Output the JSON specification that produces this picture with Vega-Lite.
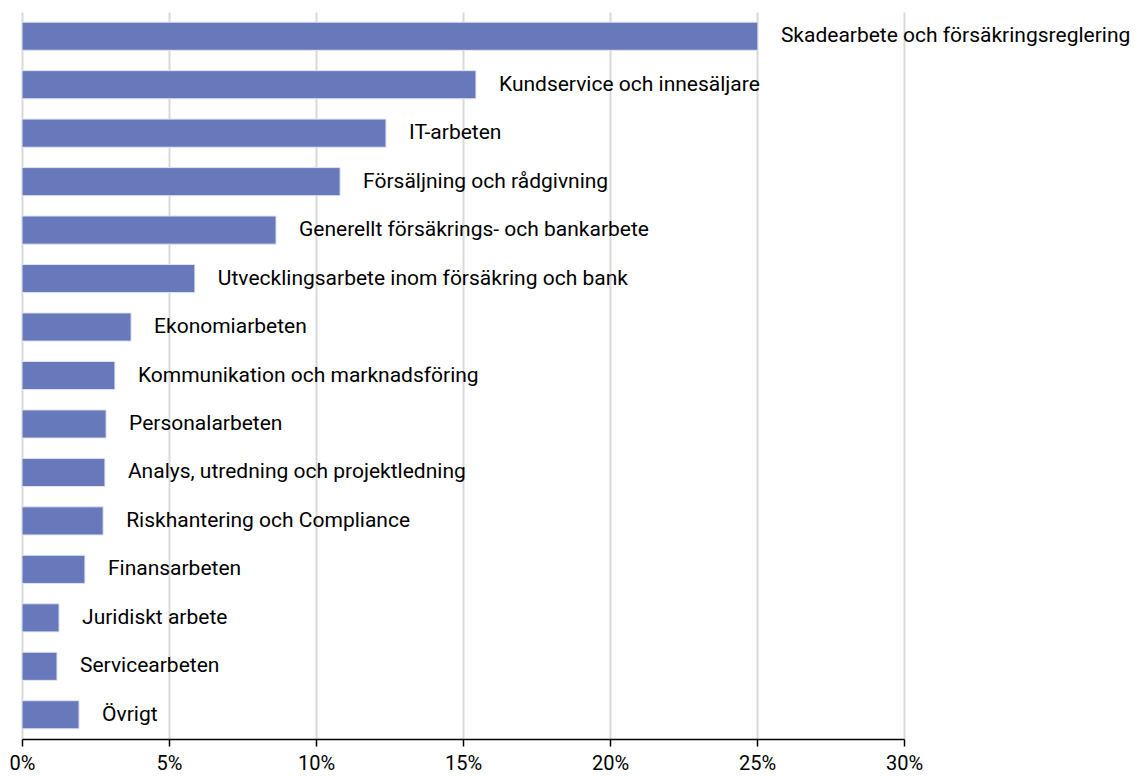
{
  "$schema": "https://vega.github.io/schema/vega-lite/v6.json",
  "width": 882,
  "height": 727,
  "autosize": {"type": "none"},
  "padding": {"left": 22, "top": 12, "right": 242, "bottom": 37},
  "background": "white",
  "config": {"view": {"stroke": null}, "font": "Roboto"},
  "data": {
    "values": [
      {"kategori": "Skadearbete och försäkringsreglering", "andel": 0.2503},
      {"kategori": "Kundservice och innesäljare", "andel": 0.1544},
      {"kategori": "IT-arbeten", "andel": 0.1238},
      {"kategori": "Försäljning och rådgivning", "andel": 0.1082},
      {"kategori": "Generellt försäkrings- och bankarbete", "andel": 0.0864},
      {"kategori": "Utvecklingsarbete inom försäkring och bank", "andel": 0.0588},
      {"kategori": "Ekonomiarbeten", "andel": 0.0371},
      {"kategori": "Kommunikation och marknadsföring", "andel": 0.0316},
      {"kategori": "Personalarbeten", "andel": 0.0286},
      {"kategori": "Analys, utredning och projektledning", "andel": 0.0282},
      {"kategori": "Riskhantering och Compliance", "andel": 0.0276},
      {"kategori": "Finansarbeten", "andel": 0.0214},
      {"kategori": "Juridiskt arbete", "andel": 0.0126},
      {"kategori": "Servicearbeten", "andel": 0.0119},
      {"kategori": "Övrigt", "andel": 0.0194}
    ]
  },
  "encoding": {
    "y": {
      "field": "kategori",
      "type": "nominal",
      "sort": null,
      "scale": {"paddingInner": 0.42, "paddingOuter": 0.21},
      "axis": null
    },
    "x": {
      "field": "andel",
      "type": "quantitative",
      "scale": {"domain": [0, 0.3], "nice": false},
      "axis": {
        "title": null,
        "format": ".0%",
        "values": [0, 0.05, 0.1, 0.15, 0.2, 0.25, 0.3],
        "grid": true,
        "gridColor": "#d9d9d9",
        "gridWidth": 2,
        "domainColor": "#000000",
        "domainWidth": 1.5,
        "tickColor": "#000000",
        "tickWidth": 1.5,
        "tickSize": 7,
        "labelFont": "Roboto",
        "labelFontSize": 20,
        "labelColor": "#000000",
        "labelPadding": 7,
        "labelFlush": false
      }
    }
  },
  "layer": [
    {
      "mark": {"type": "bar", "color": "#6879bb", "stroke": "#dfe3f2", "strokeWidth": 1}
    },
    {
      "mark": {"type": "text", "align": "left", "baseline": "middle", "dx": 23, "font": "Roboto", "fontSize": 21, "color": "#000000"},
      "encoding": {"text": {"field": "kategori"}}
    }
  ]
}
